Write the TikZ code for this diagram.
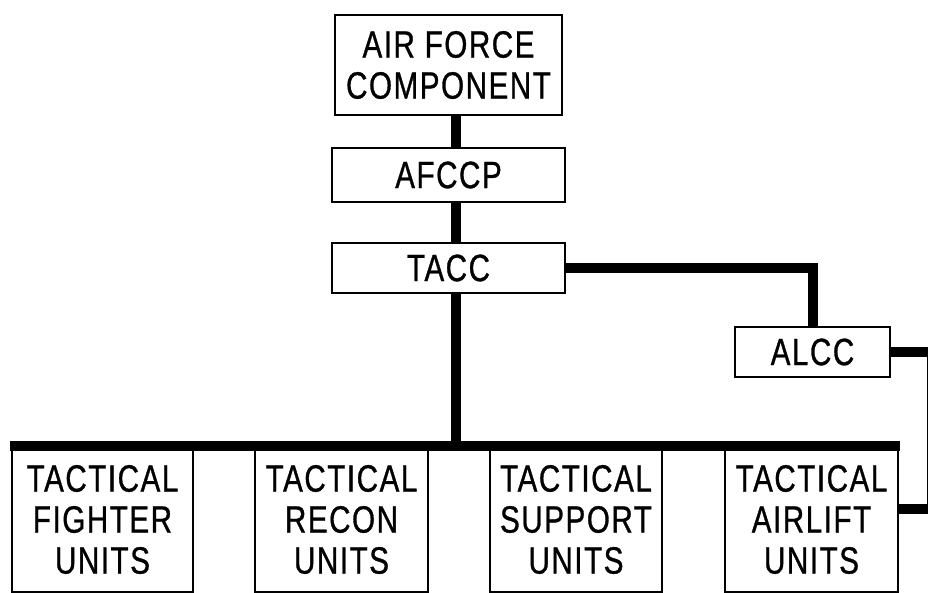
\documentclass[tikz,border=0pt]{standalone}
\usepackage{fontspec}
\setmainfont{Liberation Sans}[FakeStretch=0.78,FakeBold=0.8,LetterSpace=4]
\begin{document}
\begin{tikzpicture}[x=1pt,y=-1pt,
  box/.style={draw=black,line width=2.2pt,rectangle,inner sep=0pt,align=center,
    font=\fontsize{38}{41}\selectfont},
  conn/.style={draw=black,line width=10pt,line cap=butt,line join=miter}]
\useasboundingbox (0,0) rectangle (928,593);
\node[box,minimum width=227pt,minimum height=100pt] (afc) at (448.5,65) {AIR FORCE\\COMPONENT};
\node[box,minimum width=233pt,minimum height=54pt] (afccp) at (448.5,175) {AFCCP};
\node[box,minimum width=233pt,minimum height=50pt] (tacc) at (448.5,268) {TACC};
\node[box,minimum width=155pt,minimum height=50pt] (alcc) at (812.5,352) {ALCC};
\node[box,minimum width=181pt,minimum height=145pt] (fighter) at (102.5,519.5) {TACTICAL\\FIGHTER\\UNITS};
\node[box,minimum width=173pt,minimum height=145pt] (recon) at (341.5,519.5) {TACTICAL\\RECON\\UNITS};
\node[box,minimum width=172pt,minimum height=145pt] (support) at (576,519.5) {TACTICAL\\SUPPORT\\UNITS};
\node[box,minimum width=173pt,minimum height=145pt] (airlift) at (811.5,519.5) {TACTICAL\\AIRLIFT\\UNITS};
\coordinate (spine) at (456,0);
\coordinate (r1) at (932,352);
\coordinate (r2) at (932,509);
\draw[conn] (afc.south -| spine) -- (afccp.north -| spine);
\draw[conn] (afccp.south -| spine) -- (tacc.north -| spine);
\draw[conn] (tacc.south -| spine) -- (spine |- fighter.north);
\draw[conn] ([xshift=-1pt]fighter.north west) -- ([xshift=1pt]airlift.north east);
\draw[conn] (tacc.east) -| (alcc.north);
\draw[conn] (alcc.east) -- (r1) -- (r2) -- (r2 -| airlift.east);
\end{tikzpicture}
\end{document}
